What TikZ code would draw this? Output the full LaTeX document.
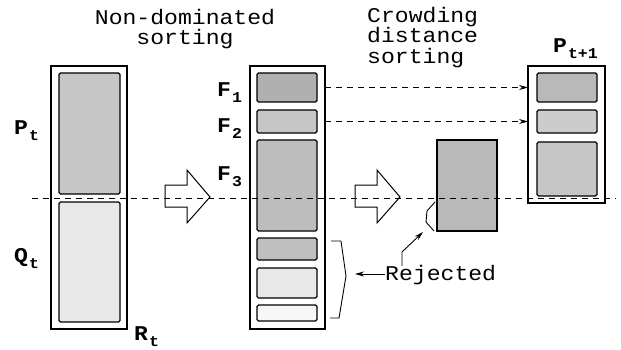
\documentclass[tikz,border=0pt]{standalone}
\usepackage{fontspec}
\setmainfont{Liberation Mono}[FakeStretch=1.1]
\usetikzlibrary{arrows.meta}
\newcommand\lbl[2]{\textbf{#1}\kern1pt\raisebox{-6pt}{\fontsize{15}{15}\selectfont\textbf{#2}}}
\begin{document}
\begin{tikzpicture}[x=1pt,y=-1pt,
  outerbox/.style={draw, line width=1.1pt, inner sep=0pt, outer sep=0pt},
  innerbox/.style={draw, line width=1.3pt, rounded corners=1.5pt, inner sep=0pt, outer sep=0pt, minimum width=60pt},
  lab/.style={anchor=base west, inner sep=0pt, font=\fontsize{21}{21}\selectfont},
  ttl/.style={inner sep=0pt, font=\fontsize{21}{20.5}\selectfont},
  hollow/.style={draw, line width=1pt, fill=white, line join=miter},
  dashline/.style={dashed, dash pattern=on 6pt off 5pt, line width=0.7pt},
  tip/.style={-{Stealth[length=9pt,width=5pt]}},
]
\useasboundingbox (0,0) rectangle (621,350);
% titles
\node[ttl, anchor=north, align=center] (t1) at (185,9) {Non-dominated\\sorting};
\node[ttl, anchor=north west, align=left] (t2) at (367,7) {Crowding\\distance\\sorting};
% left column
\node[outerbox, minimum width=76pt, minimum height=263pt] (Rt) at (89,197.5) {};
\node[innerbox, fill=gray!45, minimum width=61pt, minimum height=121pt] (Pt) at (89.5,133.5) {};
\node[innerbox, fill=gray!18, minimum width=61pt, minimum height=120pt] (Qt) at (89.5,262) {};
\node[lab] (lPt) at (14,135) {\lbl{P}{t}};
\node[lab] (lQt) at (14,262) {\lbl{Q}{t}};
\node[lab] (lRt) at (134,340) {\lbl{R}{t}};
% middle column
\node[outerbox, minimum width=75pt, minimum height=263pt] (M) at (287.5,197.5) {};
\node[innerbox, fill=gray!62, minimum height=29pt] (F1) at (287,87.5) {};
\node[innerbox, fill=gray!45, minimum height=23pt] (F2) at (287,121.5) {};
\node[innerbox, fill=gray!52, minimum height=91pt] (F3) at (287,185.5) {};
\node[innerbox, fill=gray!50, minimum height=22pt] (R1) at (287,249) {};
\node[innerbox, fill=gray!18, minimum height=30pt] (R2) at (287,283) {};
\node[innerbox, fill=gray!6, minimum height=16pt] (R3) at (287,313) {};
\node[lab] (lF1) at (217,97) {\lbl{F}{1}};
\node[lab] (lF2) at (217,132) {\lbl{F}{2}};
\node[lab] (lF3) at (217,180) {\lbl{F}{3}};
% sorted front
\node[innerbox, fill=gray!55, rounded corners=0pt, minimum height=91pt] (S) at (467,185.5) {};
% right column
\node[outerbox, minimum width=77pt, minimum height=137pt] (N) at (566.5,134.5) {};
\node[innerbox, fill=gray!55, minimum height=29pt] (N1) at (567,87.5) {};
\node[innerbox, fill=gray!40, minimum height=23pt] (N2) at (567,121.5) {};
\node[innerbox, fill=gray!45, minimum height=54pt] (N3) at (567,169) {};
\node[lab] (lN) at (553,53) {\lbl{P}{t+1}};
% hollow arrows
\draw[hollow] (165,185) -- (187,185) -- (187,170) -- (210,197) -- (187,223) -- (187,207) -- (165,207) -- cycle;
\draw[hollow] (355,185) -- (377,185) -- (377,170) -- (400,197) -- (377,223) -- (377,207) -- (355,207) -- cycle;
% dashed horizontal line
\draw[dashline] (32,198) -- (616,198);
% dashed arrows
\draw[dashline, tip] (M.east |- F1.east) -- (N.west |- N1.west);
\draw[dashline, tip] (M.east |- F2.east) -- (N.west |- N2.west);
% brackets
\draw[line width=0.9pt] (435,202) -- (427,211) -- (426,222) -- (434,231);
\draw[line width=0.9pt] (331,241) -- (341,241) -- (346,276) -- (339,318) -- (330,318);
\coordinate (b1) at (423,232);
\coordinate (b2) at (355,274);
% rejected
\node[lab] (rej) at (385,280) {Rejected};
\draw[line width=0.9pt, tip] (rej.west |- 0,274) -- (b2);
\draw[line width=0.9pt, tip] (402,266) -- (402,252) -- (b1);
\end{tikzpicture}
\end{document}
